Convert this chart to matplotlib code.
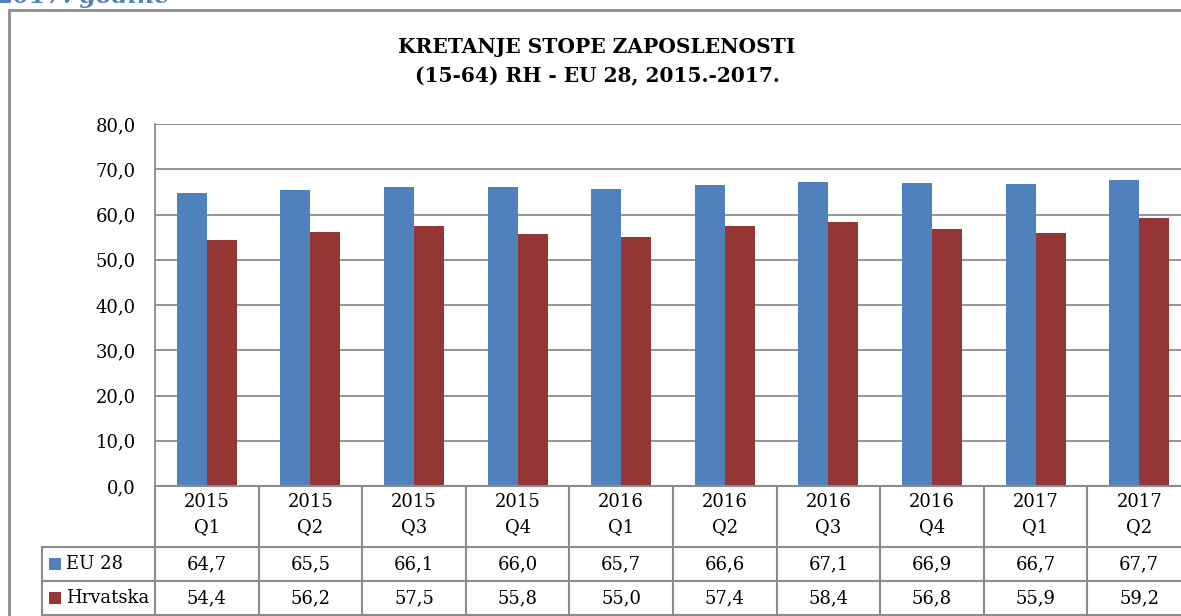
import matplotlib
matplotlib.use("Agg")
import matplotlib.pyplot as plt
from matplotlib.transforms import blended_transform_factory
from matplotlib.patches import Rectangle
import numpy as np

years = ["2015", "2015", "2015", "2015", "2016", "2016", "2016", "2016", "2017", "2017"]
quarters = ["Q1", "Q2", "Q3", "Q4", "Q1", "Q2", "Q3", "Q4", "Q1", "Q2"]
eu28 = [64.7, 65.5, 66.1, 66.0, 65.7, 66.6, 67.1, 66.9, 66.7, 67.7]
hrvatska = [54.4, 56.2, 57.5, 55.8, 55.0, 57.4, 58.4, 56.8, 55.9, 59.2]
series_names = ["EU 28", "Hrvatska"]
yticks = [0, 10, 20, 30, 40, 50, 60, 70, 80]

W, H = 1181, 616
fig = plt.figure(figsize=(W / 100, H / 100), dpi=100)
fig.patch.set_facecolor("white")

def fx(p):
    return p / W

def fy(p):
    return 1 - p / H

FONT = "DejaVu Serif"
BLUE = "#4F81BD"
RED = "#943634"
GRID = "#8C8C8C"
FS = 13

# outer border
fig.add_artist(Rectangle((fx(9), fy(700)), fx(1300), fy(10) - fy(700), transform=fig.transFigure,
                         fill=False, edgecolor="#8C8C8C", linewidth=2))

# partial heading at top (cut off in the reference)
fig.text(fx(-3), fy(3), "2017. godine", color=BLUE, fontsize=17, fontstyle="italic",
         fontweight="bold", family=FONT, ha="left", va="baseline")

# title
fig.text(fx(597), fy(47), "KRETANJE STOPE ZAPOSLENOSTI", ha="center", va="center",
         fontsize=14.5, fontweight="bold", family=FONT)
fig.text(fx(597), fy(76), "(15-64) RH - EU 28, 2015.-2017.", ha="center", va="center",
         fontsize=14.5, fontweight="bold", family=FONT)

left, right, top, bottom = 155, 1191, 124, 486
ax = fig.add_axes([fx(left), fy(bottom), fx(right - left), (bottom - top) / H])
x = np.arange(len(eu28))
bw = 0.29
ax.bar(x - bw / 2, eu28, width=bw, color=BLUE, zorder=3)
ax.bar(x + bw / 2, hrvatska, width=bw, color=RED, zorder=3)
ax.set_xlim(-0.5, len(eu28) - 0.5)
ax.set_ylim(0, 80)
ax.set_yticks(yticks)
ax.set_yticklabels([f"{v:.1f}".replace(".", ",") for v in yticks], family=FONT, fontsize=FS)
ax.tick_params(axis="y", length=0, pad=14)
ax.set_xticks([])
ax.yaxis.grid(True, color=GRID, linewidth=1.3, zorder=0)
for s in ["top", "right", "bottom"]:
    ax.spines[s].set_visible(False)
ax.spines["left"].set_color(GRID)
ax.spines["left"].set_linewidth(1.3)

# table
tr = blended_transform_factory(ax.transData, fig.transFigure)
lc = GRID
lw = 1.5
for yp, x0 in [(486, left), (547, 42), (581, 42), (615, 42)]:
    fig.add_artist(plt.Line2D([fx(x0), fx(1300)], [fy(yp), fy(yp)], transform=fig.transFigure, color=lc, lw=lw))
fig.add_artist(plt.Line2D([fx(42), fx(42)], [fy(547), fy(615)], transform=fig.transFigure, color=lc, lw=lw))
for i in range(len(eu28) + 1):
    xb = i - 0.5
    fig.add_artist(plt.Line2D([xb, xb], [fy(486), fy(615)], transform=tr, color=lc, lw=lw))

for i in range(len(eu28)):
    fig.text(x[i], fy(502), years[i], transform=tr, ha="center", va="center", family=FONT, fontsize=FS)
    fig.text(x[i], fy(527), quarters[i], transform=tr, ha="center", va="center", family=FONT, fontsize=FS)
    fig.text(x[i], fy(564), f"{eu28[i]:.1f}".replace(".", ","), transform=tr, ha="center", va="center", family=FONT, fontsize=FS)
    fig.text(x[i], fy(598), f"{hrvatska[i]:.1f}".replace(".", ","), transform=tr, ha="center", va="center", family=FONT, fontsize=FS)

# legend keys in table
for name, col, yc in [(series_names[0], BLUE, 564), (series_names[1], RED, 598)]:
    fig.add_artist(Rectangle((fx(49), fy(yc + 6)), fx(12), 12 / H, transform=fig.transFigure,
                             facecolor=col, edgecolor="none"))
    fig.text(fx(66), fy(yc), name, ha="left", va="center", family=FONT, fontsize=FS)

fig.savefig("out.png", dpi=100)
